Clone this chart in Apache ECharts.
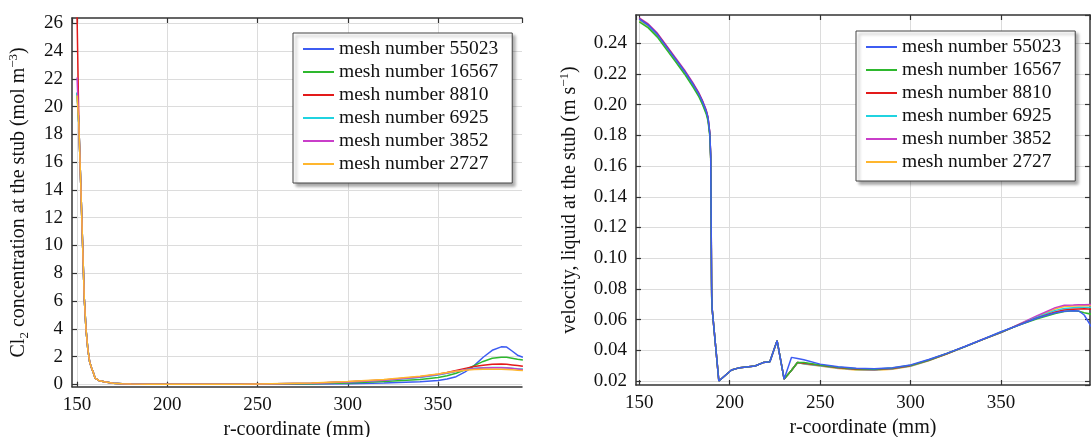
<!DOCTYPE html>
<html><head><meta charset="utf-8">
<script src="https://cdn.jsdelivr.net/npm/echarts@6/dist/echarts.min.js"></script>
<style>html,body{margin:0;padding:0;background:#fff}#c{width:1091px;height:437px}</style>
</head><body><div id="c"></div>
<script>
const meshNames = ['mesh number 55023','mesh number 16567','mesh number 8810','mesh number 6925','mesh number 3852','mesh number 2727'];
const meshColors = ['#3d5cf2','#2eb82e','#e31a1a','#20d3e0','#c93ec9','#ffb62e'];

// Left: Cl2 concentration (mol m^-3) vs r (mm)
const rConc = [150,151,152,153,154,155,156,157,158,159,160,162,165,170,175,180,190,200,220,240,250,280,300,320,340,350,355,360,365,370,375,380,385,388,391,394,397];
const concBlue    = [21.0,18.7,14.6,10.4,6.2,3.9,2.5,1.6,1.2,0.85,0.45,0.28,0.18,0.08,0.04,0.02,0,0,0,0,0,0.02,0.05,0.1,0.18,0.28,0.38,0.55,0.9,1.35,1.95,2.45,2.7,2.68,2.4,2.1,1.95];
const concGreen   = [21.0,18.7,14.6,10.4,6.2,3.9,2.5,1.6,1.2,0.85,0.45,0.28,0.18,0.08,0.04,0.02,0,0,0,0,0,0.05,0.1,0.2,0.35,0.5,0.62,0.8,1.05,1.35,1.65,1.88,1.95,1.95,1.88,1.8,1.75];
const concRed     = [26.6,18.7,14.6,10.4,6.2,3.9,2.5,1.6,1.2,0.85,0.45,0.28,0.18,0.08,0.04,0.02,0,0,0,0,0.02,0.08,0.18,0.32,0.55,0.72,0.85,1.0,1.15,1.28,1.38,1.45,1.46,1.45,1.4,1.35,1.3];
const concCyan    = [21.0,18.7,14.6,10.4,6.2,3.9,2.5,1.6,1.2,0.85,0.45,0.28,0.18,0.08,0.04,0.02,0,0,0,0,0.02,0.08,0.17,0.3,0.5,0.68,0.8,0.93,1.05,1.15,1.2,1.22,1.22,1.2,1.15,1.12,1.1];
const concMagenta = [22.1,18.7,14.6,10.4,6.2,3.9,2.5,1.6,1.2,0.85,0.45,0.28,0.18,0.08,0.04,0.02,0,0,0,0,0.02,0.08,0.17,0.3,0.52,0.7,0.82,0.95,1.05,1.13,1.18,1.2,1.2,1.18,1.15,1.1,1.05];
const concYellow  = [20.8,18.7,14.6,10.4,6.2,3.9,2.5,1.6,1.2,0.85,0.45,0.28,0.18,0.08,0.04,0.02,0,0,0,0,0.03,0.1,0.2,0.35,0.58,0.75,0.85,0.95,1.02,1.06,1.08,1.08,1.08,1.07,1.05,1.02,1.0];

// Right: liquid velocity (m s^-1) vs r (mm)
const rVel = [150,155,160,165,170,175,180,183,185,187,188,189,189.5,190,190.3,194,201,205.6,214,218.5,222.2,226.2,230.1,234.2,237.5,241,250,260,270,280,290,300,310,320,330,340,350,360,370,380,385,390,393,396,400];
const velBlue    = [0.2558,0.2518,0.2458,0.2378,0.2298,0.2218,0.2128,0.2068,0.2018,0.1958,0.1915,0.1815,0.167,0.08,0.067,0.020,0.0272,0.0287,0.0298,0.032,0.0326,0.0463,0.0213,0.0354,0.0347,0.0338,0.031,0.0293,0.0283,0.028,0.0287,0.0305,0.034,0.038,0.0425,0.0472,0.0521,0.0565,0.061,0.0645,0.0655,0.0657,0.0656,0.063,0.0553];
const velGreen   = [0.254,0.250,0.244,0.236,0.228,0.220,0.211,0.205,0.200,0.194,0.1895,0.1795,0.165,0.075,0.067,0.020,0.0272,0.0287,0.0298,0.032,0.0326,0.0463,0.0213,0.027,0.032,0.032,0.0305,0.029,0.028,0.0277,0.0284,0.0302,0.0337,0.0379,0.0424,0.0471,0.0519,0.0564,0.0606,0.064,0.0652,0.0657,0.0655,0.0645,0.0635];
const velRed     = [0.256,0.252,0.246,0.238,0.230,0.222,0.213,0.207,0.202,0.196,0.1915,0.1815,0.1665,0.077,0.067,0.020,0.0272,0.0287,0.0298,0.032,0.0326,0.0463,0.0213,0.027,0.032,0.0315,0.0302,0.0287,0.0277,0.0275,0.0282,0.0300,0.0335,0.0378,0.0424,0.0471,0.0517,0.0566,0.061,0.065,0.0662,0.0668,0.0669,0.067,0.0668];
const velCyan    = [0.2555,0.2515,0.2455,0.2375,0.2295,0.2215,0.2125,0.2065,0.2015,0.1955,0.191,0.181,0.166,0.082,0.067,0.020,0.0272,0.0287,0.0298,0.032,0.0326,0.0463,0.0213,0.027,0.032,0.0313,0.0300,0.0285,0.0275,0.0273,0.0280,0.0298,0.0334,0.0377,0.0423,0.0471,0.0516,0.0567,0.0615,0.066,0.0672,0.0677,0.0678,0.0678,0.0678];
const velMagenta = [0.2566,0.2526,0.2466,0.2386,0.2306,0.2226,0.2136,0.2076,0.2026,0.1966,0.192,0.182,0.1665,0.085,0.067,0.020,0.0272,0.0287,0.0298,0.032,0.0326,0.0463,0.0213,0.027,0.032,0.0314,0.0301,0.0286,0.0276,0.0274,0.0281,0.0299,0.0335,0.0378,0.0424,0.0472,0.0515,0.057,0.0625,0.0678,0.0694,0.0695,0.0696,0.0697,0.0698];
const velYellow  = [0.2548,0.2508,0.2448,0.2368,0.2288,0.2208,0.2118,0.2058,0.2008,0.1948,0.1905,0.1805,0.165,0.085,0.067,0.020,0.0272,0.0287,0.0298,0.032,0.0326,0.0463,0.0213,0.027,0.032,0.0310,0.0297,0.0282,0.0272,0.0270,0.0277,0.0296,0.0332,0.0376,0.0422,0.047,0.0515,0.0568,0.062,0.067,0.0685,0.0688,0.0689,0.069,0.069];

const concData = [concBlue, concGreen, concRed, concCyan, concMagenta, concYellow];
const velData = [velBlue, velGreen, velRed, velCyan, velMagenta, velYellow];

const FF = 'Liberation Serif';
const AX = '#333';
const GRIDC = '#dcdcdc';
const lbl = {fontFamily: FF, fontSize: 19, color: '#111'};

function mainX(gi, min, max) {
  return {gridIndex: gi, type: 'value', min: min, max: max, splitNumber: 5, position: 'bottom',
    axisLine: {show: true, onZero: false, lineStyle: {color: AX, width: 1.5}},
    axisTick: {show: true, inside: true, length: 5, lineStyle: {color: AX, width: 1.2}},
    axisLabel: Object.assign({showMinLabel: false, showMaxLabel: false, margin: 9}, lbl),
    splitLine: {show: true, showMinLine: false, showMaxLine: false, lineStyle: {color: GRIDC, width: 1}},
    name: 'r-coordinate (mm)', nameLocation: 'middle', nameGap: 31,
    nameTextStyle: {fontFamily: FF, fontSize: 20, color: '#111'}};
}
function frameX(gi, min, max) {
  return {gridIndex: gi, type: 'value', min: min, max: max, splitNumber: 5, position: 'top',
    axisLine: {show: true, onZero: false, lineStyle: {color: AX, width: 1.5}},
    axisTick: {show: true, inside: true, length: 5, lineStyle: {color: AX, width: 1.2}},
    axisLabel: {show: false}, splitLine: {show: false}};
}
const richName = {
  a: {fontFamily: FF, fontSize: 20, color: '#111', lineHeight: 24, verticalAlign: 'middle'},
  b: {fontFamily: FF, fontSize: 13, color: '#111', lineHeight: 24, verticalAlign: 'bottom'},
  c: {fontFamily: FF, fontSize: 13, color: '#111', lineHeight: 24, verticalAlign: 'top'}
};

const series = [];
concData.forEach((vals, i) => {
  series.push({type: 'line', name: meshNames[i], xAxisIndex: 0, yAxisIndex: 0,
    data: rConc.map((r, k) => [r, vals[k]]), showSymbol: false, symbol: 'none',
    lineStyle: {width: 1.5, color: meshColors[i]}, itemStyle: {color: meshColors[i]}});
});
[5, 4, 3, 2, 1, 0].forEach(i => {
  series.push({type: 'line', name: meshNames[i], xAxisIndex: 2, yAxisIndex: 1,
    data: rVel.map((r, k) => [r, velData[i][k]]), showSymbol: false, symbol: 'none',
    lineStyle: {width: 1.5, color: meshColors[i]}, itemStyle: {color: meshColors[i]}});
});

function legendAt(left, top) {
  return {data: meshNames, left: left, top: top, orient: 'vertical', icon: 'rect',
    itemWidth: 31, itemHeight: 2, itemGap: 3, itemTextGap: 7, padding: [6, 14, 9, 10],
    backgroundColor: '#fff', borderColor: '#444', borderWidth: 1,
    shadowColor: 'rgba(0,0,0,0.35)', shadowBlur: 3, shadowOffsetX: 3, shadowOffsetY: 3,
    selectedMode: false,
    textStyle: {fontFamily: FF, fontSize: 19.5, color: '#111', lineHeight: 19}};
}

const chart = echarts.init(document.getElementById('c'), null, {renderer: 'canvas'});
chart.setOption({
  animation: false,
  backgroundColor: '#fff',
  grid: [
    {left: 72, top: 18, width: 450, height: 368.7, containLabel: false, outerBoundsMode: 'none'},
    {left: 636, top: 15, width: 454, height: 370, containLabel: false, outerBoundsMode: 'none'}
  ],
  legend: [legendAt(293, 33), legendAt(856, 31)],
  xAxis: [
    mainX(0, 147.2, 396.5), frameX(0, 147.2, 396.5),
    mainX(1, 148.2, 399.2), frameX(1, 148.2, 399.2)
  ],
  yAxis: [
    {gridIndex: 0, type: 'value', min: -0.17, max: 26.38, splitNumber: 13, position: 'left',
      axisLine: {show: true, onZero: false, lineStyle: {color: AX, width: 1.5}},
      axisTick: {show: true, inside: true, length: 5, lineStyle: {color: AX, width: 1.2}},
      axisLabel: Object.assign({showMinLabel: false, showMaxLabel: false, margin: 9}, lbl),
      splitLine: {show: true, showMinLine: false, showMaxLine: false, lineStyle: {color: GRIDC, width: 1}},
      name: '{a|Cl}{b|2}{a| concentration at the stub (mol m}{c|−3}{a|)}',
      nameLocation: 'middle', nameGap: 41, nameRotate: 90,
      nameTextStyle: {fontFamily: FF, fontSize: 20, color: '#111', rich: richName}},
    {gridIndex: 1, type: 'value', min: 0.0174, max: 0.2584, splitNumber: 12, position: 'left',
      axisLine: {show: true, onZero: false, lineStyle: {color: AX, width: 1.5}},
      axisTick: {show: true, inside: true, length: 5, lineStyle: {color: AX, width: 1.2}},
      axisLabel: Object.assign({showMinLabel: false, showMaxLabel: false, margin: 9,
        formatter: v => v.toFixed(2)}, lbl),
      splitLine: {show: true, showMinLine: false, showMaxLine: false, lineStyle: {color: GRIDC, width: 1}},
      name: '{a|velocity, liquid at the stub (m s}{c|−1}{a|)}',
      nameLocation: 'middle', nameGap: 54, nameRotate: 90,
      nameTextStyle: {fontFamily: FF, fontSize: 20, color: '#111', rich: richName}},
    {gridIndex: 1, type: 'value', min: 0.0174, max: 0.2584, splitNumber: 12, position: 'right',
      axisLine: {show: true, onZero: false, lineStyle: {color: AX, width: 1.5}},
      axisTick: {show: true, inside: true, length: 5, lineStyle: {color: AX, width: 1.2}},
      axisLabel: {show: false}, splitLine: {show: false}}
  ],
  series: series
});
</script>
</body></html>
